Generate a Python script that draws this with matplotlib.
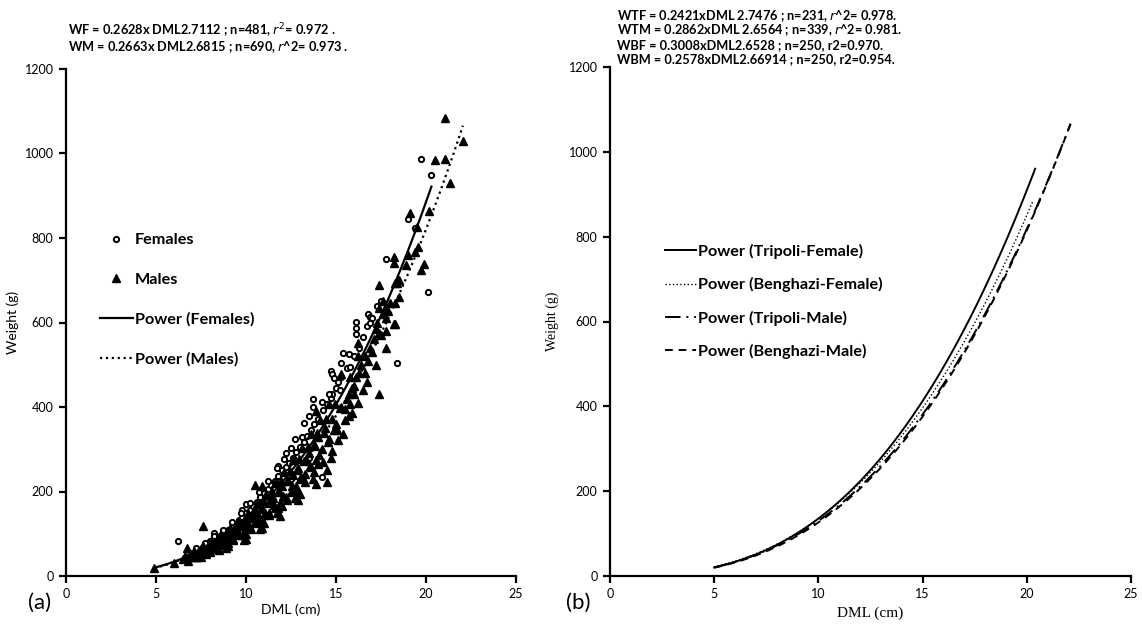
import matplotlib
matplotlib.use("Agg")
import matplotlib.pyplot as plt
import numpy as np

plt.rcParams['font.family'] = ['Lato', 'DejaVu Sans']

# ---- panel (a) scatter data ----
female_x = [6.2, 8.2, 9.8, 10.0, 11.8, 12.1, 12.5, 13.1, 13.5, 13.7, 14.2, 14.7, 14.2, 14.7, 14.8, 14.9,
            15.3, 15.4, 15.7, 16.1, 16.1, 16.1, 16.7, 16.8, 16.9, 17.8, 18.4, 19.0, 19.4, 19.7, 20.1, 20.3,
            7.0, 7.3, 7.6, 7.9, 8.0, 8.4, 8.6, 8.8, 9.0, 9.2, 9.4, 9.6, 9.8, 10.0, 10.2, 10.4, 10.6, 10.8,
            11.0, 11.2, 11.4, 11.6, 11.8, 12.0, 12.2, 12.4, 12.6, 12.8, 13.0, 13.2, 13.4, 13.6, 13.8, 14.0,
            14.3, 14.5, 14.8, 15.0, 15.3, 15.6, 16.0, 16.5, 17.0, 17.5, 9.5, 10.5, 11.5, 12.5, 13.5,
            7.2, 7.7, 8.2, 8.7, 9.2, 9.7, 10.2, 10.7, 11.2, 11.7, 12.2, 12.7, 13.2, 13.7,
            15.2, 15.8, 16.3, 16.9, 17.3, 14.6, 15.1]
female_y = [83, 102, 157, 171, 261, 278, 302, 328, 378, 418, 413, 421, 235, 485, 478, 468,
            504, 527, 525, 601, 587, 573, 592, 620, 613, 751, 504, 846, 824, 986, 672, 948,
            55, 60, 68, 75, 82, 88, 96, 104, 110, 116, 124, 132, 140, 150, 156, 166, 176, 186,
            196, 206, 216, 226, 236, 250, 258, 268, 280, 294, 306, 318, 332, 346, 360, 372,
            392, 408, 430, 445, 470, 492, 520, 565, 610, 650, 110, 140, 180, 230, 280,
            66, 78, 94, 110, 128, 150, 172, 198, 226, 256, 290, 325, 362, 400,
            440, 495, 540, 600, 640, 430, 460]

male_x = [4.9, 6.0, 6.7, 7.6, 10.0, 10.5, 10.9, 14.0, 14.5, 14.5, 13.9, 14.9, 15.4, 15.1, 15.3, 15.7,
          15.8, 15.9, 16.2, 16.2, 16.7, 17.4, 17.2, 17.4, 17.8, 17.8, 17.4, 17.7, 17.9, 17.6, 18.3, 17.4,
          18.3, 18.4, 18.5, 18.3, 18.2, 18.2, 18.2, 18.9, 19.56, 19.4, 19.9, 19.7, 19.5, 19.1, 20.17, 20.5,
          21.06, 21.06, 22.06, 21.33,
          6.5, 6.8, 7.0, 7.2, 7.4, 7.6, 7.8, 8.0, 8.0, 8.2, 8.4, 8.5, 8.7, 8.8, 9.0, 9.0, 9.2, 9.3, 9.5,
          9.6, 9.8, 9.9, 10.0, 10.2, 10.3, 10.5, 10.6, 10.8, 10.9, 11.0, 11.2, 11.3, 11.5, 11.6, 11.8,
          11.9, 12.0, 12.2, 12.3, 12.5, 12.6, 12.8, 12.9, 13.0, 13.2, 13.3, 13.5, 13.6, 13.8, 13.9, 14.0,
          14.2, 14.4, 14.6, 14.8, 15.0, 15.2, 15.5, 15.7, 16.0, 16.3, 16.5, 16.8, 17.0, 17.2, 17.5, 17.8,
          18.0, 18.5, 19.0, 12.0, 11.0, 13.0, 10.0, 9.0, 8.5, 7.5, 10.8, 11.7, 12.7, 13.7, 14.7,
          6.6, 7.1, 7.6, 8.1, 8.6, 9.1, 9.6, 10.1, 10.6, 11.1, 11.6, 12.1, 12.6, 13.1, 13.6, 14.1, 14.6,
          6.75, 7.25, 7.75, 8.25, 8.75, 9.25, 9.75, 10.25, 10.75, 11.25, 11.75, 12.25, 12.75, 13.25, 13.75,
          14.25, 14.75,
          6.85, 7.35, 7.85, 8.35, 8.85, 9.35, 9.85, 10.35, 10.85, 11.35, 11.85, 12.35, 12.85, 13.35, 13.85,
          14.35,
          8.9, 9.9, 10.9, 11.9, 12.9, 13.9,
          7.45, 7.95, 8.45, 8.95, 9.45, 9.95, 10.45, 10.95, 11.45, 11.95, 12.45, 12.95, 13.45, 13.95,
          14.45, 14.95,
          7.05, 7.55, 8.05, 8.55, 9.05, 9.55, 10.05, 10.55, 11.05, 11.55, 12.05, 12.55, 13.05, 13.55,
          14.05, 14.55, 15.05,
          15.3, 15.6, 15.9, 16.1, 16.4, 16.6, 16.9, 17.1, 15.0, 15.5, 16.0, 16.6, 17.3, 17.6, 16.2, 15.8]
male_y = [19, 31, 67, 119, 88, 216, 214, 264, 252, 223, 390, 345, 337, 323, 478, 378,
          406, 385, 409, 551, 459, 430, 584, 575, 580, 539, 634, 632, 628, 620, 596, 689,
          694, 694, 660, 646, 596, 755, 741, 736, 779, 767, 739, 725, 827, 860, 865, 984,
          986, 1083, 1029, 929,
          40, 45, 48, 44, 55, 58, 62, 66, 56, 72, 70, 82, 78, 88, 96, 78, 102, 88, 110,
          96, 118, 104, 128, 116, 138, 126, 148, 134, 160, 144, 172, 150, 184, 160, 198,
          172, 212, 186, 226, 200, 240, 212, 256, 230, 272, 242, 290, 258, 310, 275, 330,
          300, 350, 325, 372, 350, 398, 370, 430, 450, 480, 440, 510, 530, 500, 570, 610,
          645, 700, 760, 165, 125, 195, 100, 72, 62, 46, 112, 150, 185, 230, 280,
          48, 58, 70, 83, 98, 113, 131, 150, 171, 194, 219, 245, 274, 303, 336, 370, 406,
          36, 44, 53, 63, 74, 85, 98, 112, 127, 144, 162, 181, 202, 223, 246, 271, 297,
          46, 56, 67, 79, 92, 106, 122, 140, 159, 180, 202, 226, 251, 278, 307, 338,
          66, 86, 113, 143, 180, 218,
          62, 75, 89, 103, 119, 137, 156, 177, 199, 224, 249, 276, 306, 338, 372, 407,
          45, 54, 64, 76, 88, 102, 116, 133, 150, 169, 190, 212, 235, 260, 287, 316, 346,
          400, 420, 445, 470, 500, 520, 540, 560, 360, 395, 430, 480, 600, 650, 520, 470]

# ---- fitted power curves W = a * DML^b ----
fit_a_labels = ['Power (Females)', 'Power (Males)']
fit_a_coef = [0.2628, 0.2663]
fit_a_exp = [2.7112, 2.6815]
fit_a_range = [(4.9, 20.3), (4.9, 22.05)]
fit_a_style = ['-', ':']

fit_b_labels = ['Power (Tripoli-Female)', 'Power (Benghazi-Female)',
                'Power (Tripoli-Male)', 'Power (Benghazi-Male)']
fit_b_coef = [0.2421, 0.3008, 0.2862, 0.2578]
fit_b_exp = [2.7476, 2.6528, 2.6564, 2.690]
fit_b_range = [(5.0, 20.4), (5.0, 20.3), (5.0, 22.1), (5.0, 22.1)]
fit_b_style = ['-', ':', (0, (8, 3, 1, 3)), (0, (4, 3))]

eq_a = ['WF = 0.2628x DML2.7112 ; n=481, $r^2$= 0.972 .',
        'WM = 0.2663x DML2.6815 ; n=690, $r$^2= 0.973 .']
eq_b = ['WTF = 0.2421xDML 2.7476 ; n=231, $r$^2= 0.978.',
        'WTM = 0.2862xDML 2.6564 ; n=339, $r$^2= 0.981.',
        'WBF = 0.3008xDML2.6528 ; n=250, r2=0.970.',
        'WBM = 0.2578xDML2.66914 ; n=250, r2=0.954.']

x_ticks = [0, 5, 10, 15, 20, 25]
y_ticks = [0, 200, 400, 600, 800, 1000, 1200]

W, H = 1142, 626
fig = plt.figure(figsize=(W / 100, H / 100), dpi=100)


def fx(px):
    return px / W


def fy(py):
    return 1 - py / H


def style_axes(ax):
    ax.set_xlim(0, 25)
    ax.set_ylim(0, 1200)
    ax.set_xticks(x_ticks)
    ax.set_yticks(y_ticks)
    for s in ['top', 'right']:
        ax.spines[s].set_visible(False)
    for s in ['left', 'bottom']:
        ax.spines[s].set_linewidth(1.6)
    ax.tick_params(direction='out', length=5, width=1.6, labelsize=9, pad=4)


leg_font = {'weight': 'bold', 'size': 11.7}

# ---- panel (a) ----
ax1 = fig.add_axes([fx(66), fy(576), fx(516) - fx(66), fy(69) - fy(576)])
style_axes(ax1)
ax1.plot(female_x, female_y, 'o', ms=3.8, mfc='white', mec='black', mew=1.4,
         label='Females', clip_on=False)
ax1.plot(male_x, male_y, '^', ms=6.0, color='black', label='Males', clip_on=False)
for a, b, (x0, x1), ls, lab in zip(fit_a_coef, fit_a_exp, fit_a_range, fit_a_style, fit_a_labels):
    xs = np.linspace(x0, x1, 200)
    ax1.plot(xs, a * xs ** b, color='black', ls=ls, lw=1.6, label=lab)
ax1.set_xlabel('DML (cm)', fontsize=10, labelpad=2)
ax1.set_ylabel('Weight (g)', fontsize=10, labelpad=4)
ax1.legend(loc='upper left', bbox_to_anchor=(fx(100), fy(233)), bbox_transform=fig.transFigure,
           frameon=False, borderpad=0, borderaxespad=0, numpoints=1, handlelength=2.0,
           handletextpad=0.15, labelspacing=1.55, prop=leg_font)
for i, t in enumerate(eq_a):
    fig.text(fx(68), fy(31 + 16 * i), t, fontsize=9.2, fontweight='bold', va='center')
fig.text(fx(40), fy(603), '(a)', fontsize=16, ha='center', va='center')

# ---- panel (b) ----
ax2 = fig.add_axes([fx(610), fy(576), fx(1131) - fx(610), fy(67) - fy(576)])
style_axes(ax2)
for a, b, (x0, x1), ls, lab in zip(fit_b_coef, fit_b_exp, fit_b_range, fit_b_style, fit_b_labels):
    xs = np.linspace(x0, x1, 200)
    ax2.plot(xs, a * xs ** b, color='black', ls=ls, lw=1.4 if ls != ':' else 1.0, label=lab)
ax2.set_xlabel('DML (cm)', fontsize=11, family='Liberation Serif', labelpad=4)
ax2.set_ylabel('Weight (g)', fontsize=10, family='Liberation Serif', labelpad=7)
ax2.legend(loc='upper left', bbox_to_anchor=(fx(665), fy(244)), bbox_transform=fig.transFigure,
           frameon=False, borderpad=0, borderaxespad=0, handlelength=1.9,
           handletextpad=0.15, labelspacing=1.12, prop=leg_font)
for i, t in enumerate(eq_b):
    fig.text(fx(617), fy(16 + 14.5 * i), t, fontsize=9.2, fontweight='bold', va='center')
fig.text(fx(578), fy(603), '(b)', fontsize=16, ha='center', va='center')

fig.savefig('out.png', dpi=100)
